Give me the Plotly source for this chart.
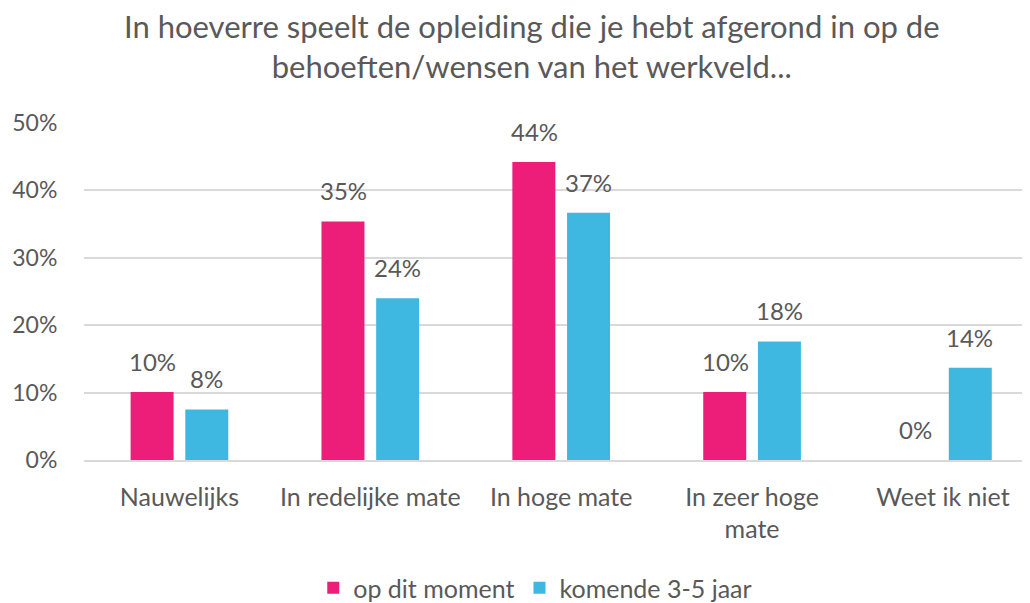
import plotly.graph_objects as go

categories = ["Nauwelijks", "In redelijke mate", "In hoge mate", "In zeer hoge<br>mate", "Weet ik niet"]
series_names = ["op dit moment", "komende 3-5 jaar"]
op_dit_moment = [10.1, 35.4, 44.2, 10.1, 0.0]
komende_3_5_jaar = [7.5, 24.0, 36.7, 17.6, 13.7]
y_ticks = [0, 10, 20, 30, 40, 50]
y_tick_labels = ["0%", "10%", "20%", "30%", "40%", "50%"]

title_text = "In hoeverre speelt de opleiding die je hebt afgerond in op de<br>behoeften/wensen van het werkveld..."

PINK = "#EC1E79"
BLUE = "#3EB8E0"
TXT = "#595959"
FONT = "Lato"

fig = go.Figure()
fig.add_trace(go.Bar(name=series_names[0], x=categories, y=op_dit_moment,
                     marker=dict(color=PINK, line=dict(width=0))))
fig.add_trace(go.Bar(name=series_names[1], x=categories, y=komende_3_5_jaar,
                     marker=dict(color=BLUE, line=dict(width=0))))

annotations = []
for vals, shift in ((op_dit_moment, -27), (komende_3_5_jaar, 27)):
    for c, v in zip(categories, vals):
        annotations.append(dict(x=c, y=v, xref="x", yref="y", text=f"{round(v)}%",
                                showarrow=False, xshift=shift, yshift=14, yanchor="bottom",
                                font=dict(family=FONT, size=24, color=TXT)))
annotations.append(dict(x=(524 - 75.5) / 946.5, y=(452 - 38) / 337, xref="paper", yref="paper",
                        text=title_text, showarrow=False, xanchor="center", yanchor="middle",
                        font=dict(family=FONT, size=31, color=TXT)))

fig.update_layout(
    width=1022, height=595,
    margin=dict(l=75.5, r=0, t=115, b=143, autoexpand=False),
    paper_bgcolor="white", plot_bgcolor="white",
    barmode="group", bargap=0.427, bargroupgap=0.214,
    font=dict(family=FONT, color=TXT),
    showlegend=True,
    legend=dict(orientation="h", x=(527 - 75.5) / 946.5, xanchor="center", y=-0.38, yanchor="middle",
                font=dict(family=FONT, size=25, color=TXT), itemwidth=30,
                traceorder="normal"),
    annotations=annotations,
)
fig.update_yaxes(range=[0, 50], tickvals=y_ticks, ticktext=y_tick_labels, automargin=False,
                 showgrid=True, gridcolor="#D9D9D9", gridwidth=1.5, zeroline=False,
                 showline=False, tickfont=dict(family=FONT, size=23, color=TXT),
                 ticks="outside", ticklen=21, tickcolor="rgba(0,0,0,0)")
fig.update_xaxes(range=[-0.5, 4.456], showline=True, linecolor="#D9D9D9", linewidth=1.5,
                 automargin=False, tickfont=dict(family=FONT, size=25, color=TXT),
                 ticks="outside", ticklen=14, tickcolor="rgba(0,0,0,0)", tickangle=0)

fig.write_html("out.html")
